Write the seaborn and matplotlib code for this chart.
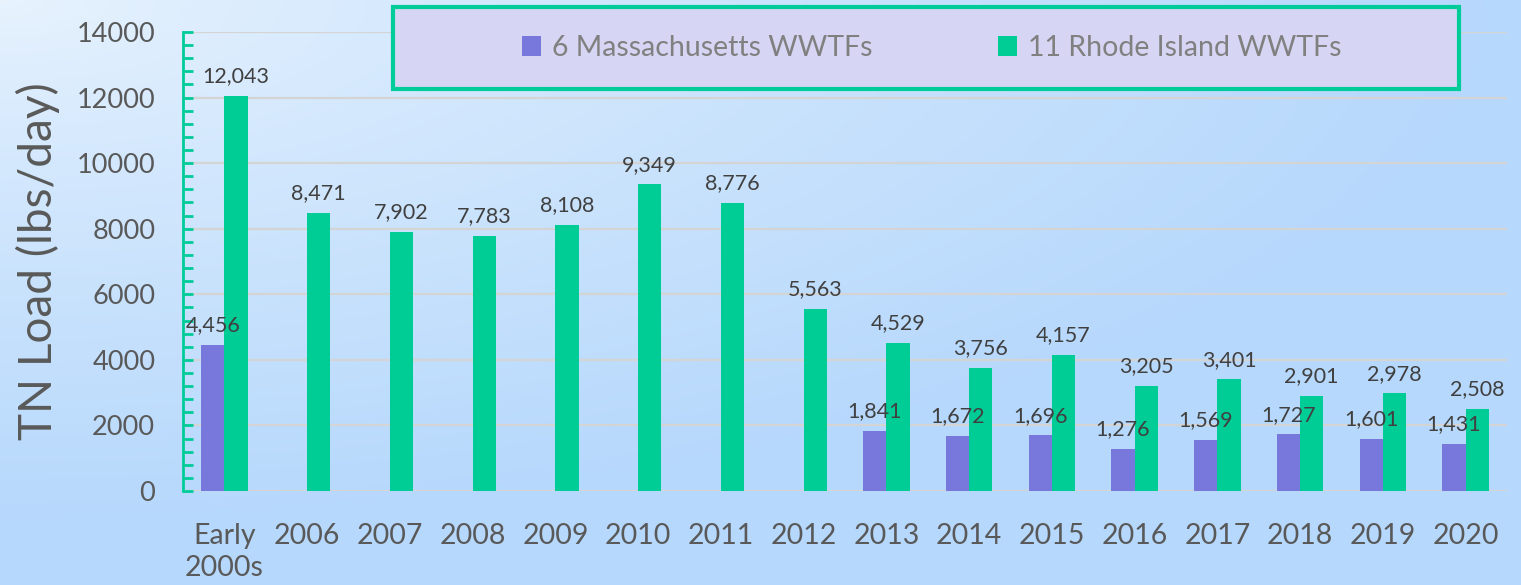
import matplotlib
matplotlib.use("Agg")
import matplotlib.pyplot as plt
import numpy as np
import pandas as pd
import seaborn as sns
from matplotlib.patches import Rectangle
from matplotlib.ticker import MultipleLocator

# Data
years = ["Early\n2000s", "2006", "2007", "2008", "2009", "2010", "2011", "2012",
         "2013", "2014", "2015", "2016", "2017", "2018", "2019", "2020"]
ma_load = [4456, None, None, None, None, None, None, None,
           1841, 1672, 1696, 1276, 1569, 1727, 1601, 1431]
ri_load = [12043, 8471, 7902, 7783, 8108, 9349, 8776, 5563,
           4529, 3756, 4157, 3205, 3401, 2901, 2978, 2508]
ma_name = "6 Massachusetts WWTFs"
ri_name = "11 Rhode Island WWTFs"

df = pd.concat([
    pd.DataFrame({"year": years, "load": ma_load, "group": ma_name}),
    pd.DataFrame({"year": years, "load": ri_load, "group": ri_name}),
], ignore_index=True)
df["load"] = pd.to_numeric(df["load"])

sns.set_theme(style="white")
plt.rcParams["font.family"] = ["Lato", "DejaVu Sans"]

fig = plt.figure(figsize=(15.21, 5.85), dpi=100)

# Gradient background
bg = fig.add_axes([0, 0, 1, 1], zorder=-10)
h, w = 585, 1521
yy, xx = np.mgrid[0:h, 0:w]
t = np.clip(np.sqrt((xx / w) ** 2 + ((yy / h) / 0.9) ** 2), 0, 1) ** 0.8
c0 = np.array([232, 243, 254]) / 255
c1 = np.array([182, 216, 252]) / 255
img = c0 + (c1 - c0) * t[..., None]
bg.imshow(img, aspect="auto", extent=[0, 1, 0, 1], origin="upper")
bg.axis("off")

ax = fig.add_axes([183 / 1521, 94 / 585, 1324 / 1521, 459 / 585])
ax.set_facecolor("none")

sns.barplot(data=df, x="year", y="load", hue="group",
            palette={ma_name: "#7878DC", ri_name: "#00CC96"}, saturation=1,
            width=0.56, gap=0, errorbar=None, ax=ax,
            edgecolor="none", linewidth=0, zorder=3)

for cont in ax.containers:
    ax.bar_label(cont, labels=[f"{v:,.0f}" for v in cont.datavalues],
                 padding=7, fontsize=15.5, color="#404040")

ax.set_xlim(-0.5, 15.5)
ax.set_ylim(0, 14000)
ax.yaxis.set_major_locator(MultipleLocator(2000))
ax.yaxis.set_minor_locator(MultipleLocator(400))
ax.grid(axis="y", color="#D4D4D4", linewidth=1.6, zorder=0)
ax.set_axisbelow(True)

for s in ["top", "right", "bottom"]:
    ax.spines[s].set_visible(False)
ax.spines["left"].set_color("#00CC99")
ax.spines["left"].set_linewidth(2)

ax.tick_params(axis="y", which="both", direction="in", color="#00CC99",
               width=2, length=7, left=True, labelsize=19.5,
               labelcolor="#595959", pad=20)
ax.tick_params(axis="x", bottom=False, labelsize=20.5, labelcolor="#595959", pad=17)
for lbl in ax.get_xticklabels():
    lbl.set_linespacing(1.3)

ax.set_xlabel("")
ax.set_ylabel("TN Load (lbs/day)", fontsize=33, color="#595959", labelpad=12)

# Legend box
box = Rectangle((393 / 1521, 1 - 89 / 585), (1459 - 393) / 1521, 82 / 585,
                transform=fig.transFigure, facecolor="#D6D6F4",
                edgecolor="#00CC99", linewidth=3, zorder=4, clip_on=False)
ax.add_patch(box)
leg = ax.legend(loc="center", bbox_to_anchor=((932 - 183) / 1324, (491 - 48) / 459),
                ncol=2, frameon=False, fontsize=20.5, handlelength=0.65,
                handleheight=0.65, handletextpad=0.4, columnspacing=4.4,
                labelcolor="#808080")
leg.set_zorder(5)

fig.savefig("out.png", dpi=100)
